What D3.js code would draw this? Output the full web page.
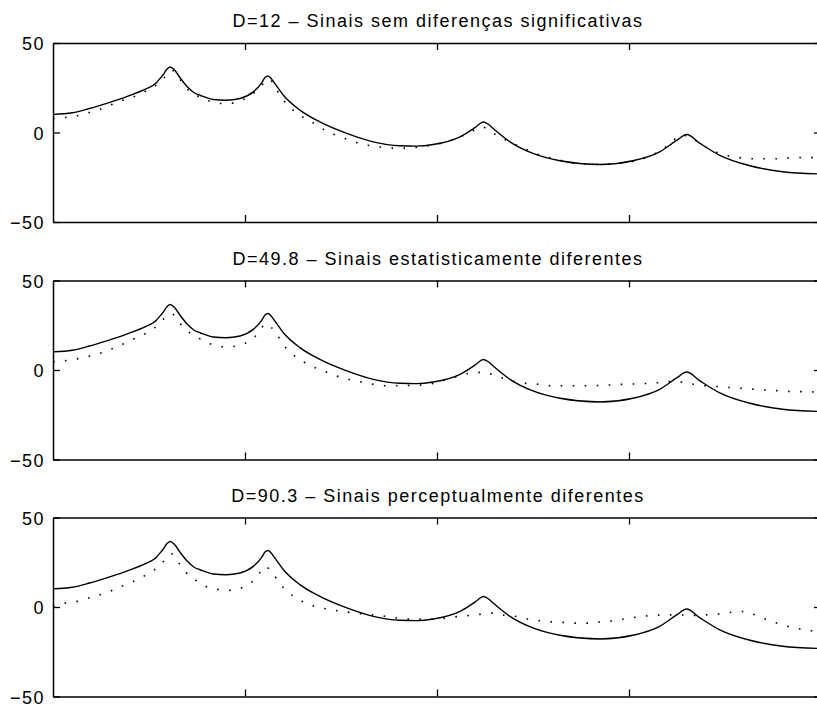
<!DOCTYPE html>
<html>
<head>
<meta charset="utf-8">
<script src="https://cdn.jsdelivr.net/npm/d3@7"></script>
<style>
  html, body { margin: 0; padding: 0; background: #fff; }
  svg { display: block; overflow: hidden; }
  text { font-family: "Liberation Sans", Arial, Helvetica, sans-serif; }
</style>
</head>
<body>
<div id="chart"></div>
<script>
"use strict";

/* ── Data (frequency in kHz, level in dB) ── */
const TITLES = [
  "D=12 – Sinais sem diferenças significativas",
  "D=49.8 – Sinais estatisticamente diferentes",
  "D=90.3 – Sinais perceptualmente diferentes"
];
const FREQ_DOMAIN = [0, 4];
const FREQ_TICKS  = [1, 2, 3, 4];
const DB_DOMAIN   = [-50, 50];
const DB_TICKS    = [-50, 0, 50];

// reference spectrum (solid, same in every panel)
const refFreq = [0, 0.10, 0.19, 0.28, 0.37, 0.49, 0.522, 0.54, 0.557, 0.575, 0.592, 0.61, 0.632, 0.661, 0.70, 0.735,
  0.766, 0.835, 0.90, 0.974, 1.043, 1.087, 1.104, 1.121, 1.139, 1.156, 1.20, 1.286, 1.39, 1.53, 1.668,
  1.807, 1.894, 1.98, 2.12, 2.19, 2.207, 2.241, 2.267, 2.293, 2.38, 2.50, 2.64, 2.85, 3.02, 3.16,
  3.25, 3.30, 3.37, 3.47, 3.63, 3.80, 4.0];
const refDb = [10.1, 11.0, 13.4, 16.3, 19.5, 24.6, 26.4, 28.0, 30.1, 32.5, 35.2, 36.6, 35.0, 30.7, 25.5, 22.2,
  20.8, 18.4, 18.0, 19.0, 22.7, 27.7, 30.7, 31.6, 29.8, 27.3, 20.8, 12.5, 5.9, -0.5, -5.2,
  -7.4, -7.6, -6.7, -2.4, 2.2, 3.5, 5.9, 4.6, 2.2, -5.2, -11.7, -15.8, -17.9, -15.8, -10.8,
  -4.3, -1.1, -6.1, -12.6, -18.6, -21.9, -23.2];

// compared spectra (dotted)
const cmp1Freq = [0, 0.0625, 0.123, 0.184, 0.245, 0.306, 0.363, 0.418, 0.476, 0.531, 0.575, 0.618, 0.661, 0.696, 0.748,
  0.809, 0.861, 0.905, 0.96, 1.017, 1.064, 1.108, 1.128, 1.151, 1.182, 1.22, 1.269, 1.321, 1.373, 1.426, 1.486,
  1.547, 1.608, 1.668, 1.738, 1.798, 1.859, 1.92, 1.98, 2.07, 2.15, 2.215, 2.24, 2.27, 2.33, 2.38,
  2.45, 2.51, 2.57, 2.63, 2.69, 2.85, 3.05, 3.12, 3.17, 3.22, 3.27, 3.32, 3.37, 3.43, 3.49,
  3.55, 3.61, 3.67, 3.73, 3.80, 3.86, 3.925, 4.0];
const cmp1Db = [7.8, 8.4, 9.3, 11.0, 13.0, 15.6, 18.0, 19.9, 22.7, 25.8, 30.1, 34.8, 29.8, 24.6, 20.8,
  17.7, 16.2, 16.2, 17.1, 19.9, 23.6, 28.6, 29.8, 26.4, 20.8, 15.6, 11.0, 7.3, 4.3, 0.6, -2.0,
  -4.3, -6.5, -7.6, -8.4, -8.9, -8.5, -8.0, -7.0, -4.5, -1.0, 2.2, 3.0, 0.9, -2.5, -5.5,
  -8.6, -11.7, -13.6, -15.1, -16.9, -17.8, -15.4, -12.6, -9.8, -5.6, -1.5, -2.5, -6.5, -9.8, -12.3,
  -13.6, -14.5, -14.7, -14.7, -14.5, -14.0, -14.0, -14.2];

const cmp2Freq = [0, 0.0625, 0.123, 0.184, 0.245, 0.306, 0.363, 0.418, 0.476, 0.528, 0.575, 0.618, 0.661, 0.705, 0.766,
  0.818, 0.87, 0.905, 0.96, 1.017, 1.069, 1.108, 1.165, 1.208, 1.252, 1.304, 1.365, 1.417, 1.478, 1.538,
  1.599, 1.668, 1.738, 1.798, 1.859, 1.92, 1.98, 2.042, 2.103, 2.163, 2.224, 2.285, 2.345, 2.406, 2.467,
  2.536, 2.597, 2.72, 2.85, 2.97, 3.03, 3.09, 3.15, 3.21, 3.28, 3.34, 3.40, 3.47, 3.535, 3.595,
  3.656, 3.717, 3.778, 3.84, 3.91, 4.0];
const cmp2Db = [4.6, 5.2, 6.2, 7.5, 9.3, 11.8, 14.4, 17.2, 20.0, 23.3, 28.4, 31.4, 26.1, 21.4, 17.4,
  14.6, 13.0, 13.0, 13.4, 15.9, 20.5, 25.8, 20.0, 13.0, 8.4, 4.6, 1.3, -0.9, -3.4, -5.2,
  -6.5, -8.0, -8.8, -8.8, -8.6, -8.4, -7.5, -5.6, -3.7, -1.9, -1.3, -2.4, -4.7, -6.5, -7.5,
  -8.0, -8.8, -8.8, -8.6, -8.0, -7.8, -7.5, -7.1, -6.5, -6.8, -8.0, -8.8, -9.3, -9.9, -10.3,
  -10.8, -11.2, -11.6, -12.0, -12.1, -12.4];

const cmp3Freq = [0, 0.0625, 0.123, 0.184, 0.245, 0.306, 0.363, 0.418, 0.476, 0.528, 0.575, 0.618, 0.653, 0.688, 0.74,
  0.79, 0.853, 0.905, 0.96, 1.017, 1.064, 1.104, 1.144, 1.179, 1.22, 1.269, 1.33, 1.39, 1.452, 1.512,
  1.573, 1.634, 1.686, 1.738, 1.798, 1.859, 1.92, 1.98, 2.05, 2.11, 2.17, 2.233, 2.293, 2.354, 2.415,
  2.475, 2.536, 2.597, 2.658, 2.72, 2.78, 2.823, 2.884, 2.944, 3.005, 3.066, 3.127, 3.1875, 3.248, 3.34,
  3.40, 3.474, 3.535, 3.595, 3.647, 3.708, 3.77, 3.83, 3.89, 3.95, 4.0];
const cmp3Db = [0.3, 2.2, 3.1, 5.0, 6.8, 9.2, 11.8, 14.3, 17.4, 20.8, 25.4, 29.7, 24.9, 19.8, 15.2,
  11.8, 10.0, 9.2, 10.2, 12.4, 17.0, 22.6, 18.9, 13.4, 8.7, 5.0, 1.6, -0.3, -1.6, -2.5,
  -3.4, -4.0, -4.7, -5.3, -6.2, -6.8, -6.7, -6.7, -6.2, -5.3, -4.7, -4.0, -3.4, -4.7, -5.3,
  -6.8, -7.7, -8.3, -8.6, -9.0, -9.0, -8.6, -8.1, -7.2, -6.2, -5.3, -4.7, -4.4, -4.4, -4.7,
  -4.4, -3.8, -2.9, -2.5, -4.0, -6.6, -9.0, -10.9, -12.3, -13.3, -14.0];

/* ── Layout ── */
const W = 817, H = 706;
const boxLeft = 53, boxRight = 821;   // right border falls just outside the picture
const panelTops = [43, 280.5, 517.5];
const panelH = 179;
const tickLen = 7;

const svg = d3.select("#chart").append("svg")
  .attr("width", W).attr("height", H);

const x = d3.scaleLinear().domain(FREQ_DOMAIN).range([boxLeft, boxRight]);

const line = (yScale) => d3.line()
  .x(d => x(d[0]))
  .y(d => yScale(d[1]))
  .curve(d3.curveMonotoneX);

const refPts = d3.zip(refFreq, refDb);
const comparisons = [d3.zip(cmp1Freq, cmp1Db), d3.zip(cmp2Freq, cmp2Db), d3.zip(cmp3Freq, cmp3Db)];

const styleAxis = (g, labels) => {
  g.select(".domain").attr("stroke", "#000").attr("stroke-width", 1.5);
  g.selectAll(".tick line").attr("stroke", "#000").attr("stroke-width", 1.3);
  g.selectAll(".tick text")
    .attr("fill", "#000")
    .attr("font-size", "18px")
    .attr("letter-spacing", "1.5px")
    .attr("dy", "0.37em");
  if (!labels) g.selectAll(".tick text").remove();
};

TITLES.forEach((title, i) => {
  const top = panelTops[i];
  const y = d3.scaleLinear().domain(DB_DOMAIN).range([top + panelH, top]);
  const g = svg.append("g");

  /* ── Box & inward ticks ── */
  g.append("g").attr("transform", `translate(${boxLeft},0)`)
    .call(d3.axisLeft(y).tickValues(DB_TICKS).tickSize(-tickLen).tickSizeOuter(0).tickPadding(8)
      .tickFormat(d => d < 0 ? "\u2212" + Math.abs(d) : d))
    .call(a => styleAxis(a, true));

  g.append("g").attr("transform", `translate(${boxRight},0)`)
    .call(d3.axisRight(y).tickValues(DB_TICKS).tickSize(-tickLen).tickSizeOuter(0))
    .call(a => styleAxis(a, false));

  g.append("g").attr("transform", `translate(0,${top})`)
    .call(d3.axisTop(x).tickValues(FREQ_TICKS).tickSize(-tickLen).tickSizeOuter(0))
    .call(a => styleAxis(a, false));

  g.append("g").attr("transform", `translate(0,${top + panelH})`)
    .call(d3.axisBottom(x).tickValues(FREQ_TICKS).tickSize(-tickLen).tickSizeOuter(0))
    .call(a => styleAxis(a, false));

  /* ── Curves ── */
  g.append("path")
    .datum(comparisons[i])
    .attr("fill", "none")
    .attr("stroke", "#000")
    .attr("stroke-width", 1.6)
    .attr("stroke-dasharray", "1.6,10.4")
    .attr("d", line(y));

  g.append("path")
    .datum(refPts)
    .attr("fill", "none")
    .attr("stroke", "#000")
    .attr("stroke-width", 1.4)
    .attr("stroke-linejoin", "round")
    .attr("d", line(y));

  /* ── Title ── */
  g.append("text")
    .attr("x", 438)
    .attr("y", top - 16)
    .attr("text-anchor", "middle")
    .attr("font-size", "18px")
    .attr("letter-spacing", "1.5px")
    .attr("fill", "#000")
    .text(title);
});
</script>
</body>
</html>
